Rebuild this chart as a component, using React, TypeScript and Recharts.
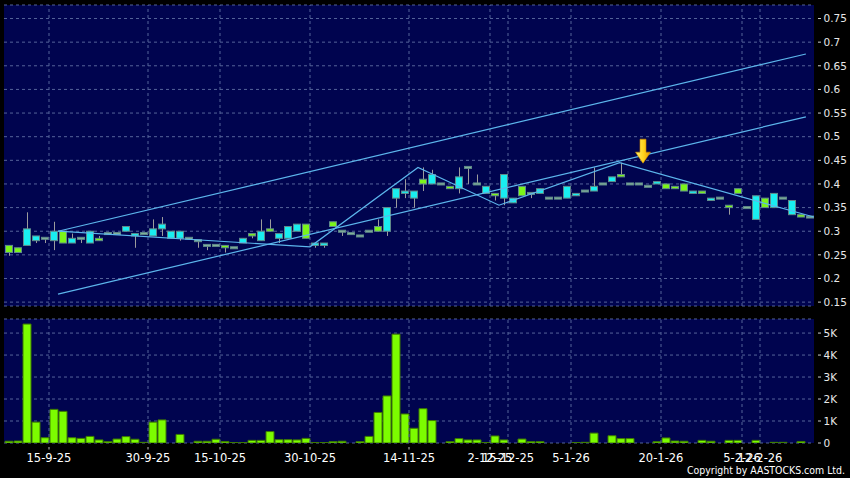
import React from "react";
import {
  ComposedChart,
  Bar,
  Line,
  XAxis,
  YAxis,
  CartesianGrid,
  ReferenceLine,
  ReferenceDot,
} from "recharts";

// daily bars (one slot per trading bar)
const opens = [
  0.27, 0.265, 0.27, 0.28, 0.285, 0.28, 0.3, 0.275, 0.285, 0.275,
  0.285, 0.295, 0.295, 0.3, 0.29, 0.295, 0.29, 0.305, 0.285, 0.285,
  0.285, 0.28, 0.27, 0.27, 0.27, 0.265, 0.275, 0.295, 0.28, 0.305,
  0.285, 0.285, 0.3, 0.315, 0.27, 0.27, 0.32, 0.3, 0.295, 0.29,
  0.3, 0.31, 0.3, 0.37, 0.38, 0.37, 0.41, 0.4, 0.4, 0.395,
  0.39, 0.435, 0.4, 0.38, 0.38, 0.37, 0.36, 0.395, 0.38, 0.38,
  0.37, 0.37, 0.37, 0.375, 0.385, 0.385, 0.4, 0.405, 0.42, 0.4,
  0.4, 0.395, 0.4, 0.4, 0.395, 0.4, 0.38, 0.385, 0.365, 0.37,
  0.355, 0.39, 0.35, 0.325, 0.37, 0.35, 0.37, 0.335, 0.335, 0.33,
];
const highs = [
  0.27, 0.265, 0.34, 0.29, 0.285, 0.32, 0.3, 0.295, 0.285, 0.3,
  0.29, 0.295, 0.295, 0.31, 0.295, 0.295, 0.325, 0.33, 0.3, 0.3,
  0.285, 0.28, 0.27, 0.27, 0.27, 0.265, 0.285, 0.295, 0.325, 0.325,
  0.295, 0.31, 0.315, 0.315, 0.275, 0.275, 0.32, 0.3, 0.295, 0.29,
  0.3, 0.325, 0.35, 0.39, 0.41, 0.385, 0.435, 0.43, 0.4, 0.395,
  0.435, 0.435, 0.42, 0.395, 0.38, 0.42, 0.37, 0.395, 0.38, 0.39,
  0.37, 0.37, 0.395, 0.38, 0.385, 0.435, 0.4, 0.415, 0.445, 0.4,
  0.4, 0.395, 0.405, 0.4, 0.395, 0.4, 0.385, 0.385, 0.37, 0.37,
  0.355, 0.39, 0.35, 0.375, 0.37, 0.38, 0.37, 0.365, 0.335, 0.33,
];
const lows = [
  0.248, 0.255, 0.27, 0.275, 0.275, 0.26, 0.275, 0.275, 0.275, 0.275,
  0.28, 0.295, 0.295, 0.3, 0.265, 0.295, 0.29, 0.29, 0.285, 0.28,
  0.285, 0.265, 0.26, 0.27, 0.255, 0.265, 0.275, 0.285, 0.28, 0.3,
  0.275, 0.285, 0.3, 0.285, 0.265, 0.265, 0.31, 0.29, 0.295, 0.29,
  0.3, 0.3, 0.29, 0.35, 0.37, 0.35, 0.385, 0.4, 0.4, 0.39,
  0.38, 0.4, 0.4, 0.38, 0.365, 0.355, 0.36, 0.375, 0.37, 0.38,
  0.37, 0.37, 0.37, 0.375, 0.385, 0.385, 0.4, 0.405, 0.415, 0.4,
  0.4, 0.395, 0.4, 0.39, 0.39, 0.385, 0.38, 0.38, 0.365, 0.37,
  0.335, 0.38, 0.35, 0.325, 0.35, 0.35, 0.37, 0.335, 0.33, 0.33,
];
const closes = [
  0.255, 0.255, 0.305, 0.29, 0.285, 0.3, 0.275, 0.285, 0.285, 0.3,
  0.28, 0.295, 0.295, 0.31, 0.295, 0.295, 0.305, 0.315, 0.3, 0.3,
  0.285, 0.28, 0.27, 0.27, 0.265, 0.265, 0.285, 0.29, 0.3, 0.3,
  0.295, 0.31, 0.315, 0.285, 0.275, 0.275, 0.31, 0.3, 0.295, 0.29,
  0.3, 0.3, 0.35, 0.39, 0.385, 0.385, 0.4, 0.42, 0.4, 0.39,
  0.415, 0.435, 0.4, 0.395, 0.375, 0.42, 0.37, 0.375, 0.38, 0.39,
  0.37, 0.37, 0.395, 0.38, 0.385, 0.395, 0.4, 0.415, 0.415, 0.4,
  0.4, 0.395, 0.405, 0.39, 0.39, 0.385, 0.385, 0.38, 0.37, 0.37,
  0.35, 0.38, 0.35, 0.375, 0.35, 0.38, 0.37, 0.365, 0.33, 0.33,
];
const volumes = [
  80, 90, 5410, 950, 240, 1530, 1440, 240, 210, 300,
  140, 60, 180, 290, 170, 30, 950, 1050, 0, 390,
  0, 80, 80, 170, 70, 20, 20, 120, 120, 520,
  150, 150, 140, 210, 20, 20, 60, 80, 0, 60,
  300, 1390, 2140, 4950, 1320, 670, 1560, 1020, 0, 60,
  200, 140, 140, 20, 320, 140, 0, 180, 60, 60,
  0, 0, 0, 20, 30, 450, 0, 330, 200, 200,
  0, 0, 60, 230, 90, 80, 0, 120, 80, 0,
  120, 120, 0, 120, 0, 30, 30, 0, 70, 0,
];

// date labels and the bar slot each one sits on
const tickSlots = [5, 16, 24, 34, 45, 54, 56, 63, 73, 82, 84];
const tickLabels = [
  "15-9-25", "30-9-25", "15-10-25", "30-10-25", "14-11-25", "2-12-25",
  "15-12-25", "5-1-26", "20-1-26", "5-2-26", "12-2-26",
];

const priceTicks = [0.15, 0.2, 0.25, 0.3, 0.35, 0.4, 0.45, 0.5, 0.55, 0.6, 0.65, 0.7, 0.75];
const volTicks = [0, 1000, 2000, 3000, 4000, 5000];

// drawn trend lines: [slot, price]
const upperChannel = [[6, 0.3], [89.1, 0.675]];
const lowerChannel = [[6, 0.167], [89.1, 0.542]];
const zigzag = [[6, 0.3], [34, 0.267], [46, 0.435], [55, 0.355], [68.4, 0.445], [90, 0.33]];
const arrowMark = [71, 0.444];

const NAVY = "#00044f";
const GRID = "#55649a";
const TREND = "#5cb6ec";
const FONT = "DejaVu Sans, sans-serif";

const rows = opens.map((o, i) => ({
  i,
  open: o,
  high: highs[i],
  low: lows[i],
  close: closes[i],
  vol: volumes[i],
}));
const pts = (a: number[][]) => a.map(([x, v]) => ({ x, v }));

const Candle = (props: any) => {
  const { x, y, width, height, payload } = props;
  if (!payload) return null;
  const { open, close, high, low } = payload;
  const k = high > low ? height / (high - low) : 0;
  const py = (v: number) => y + (high - v) * k;
  const cx = Math.round(x + width / 2) + 0.5;
  const top = py(Math.max(open, close));
  const bot = py(Math.min(open, close));
  const flat = open === close;
  const fill = flat ? "#86b49a" : close > open ? "#19eef0" : "#7cf51a";
  return (
    <g>
      {high > low && (
        <line x1={cx} x2={cx} y1={y} y2={y + height} stroke="#9c9c9c" />
      )}
      <rect
        x={x + 0.5}
        y={flat ? top - 1 : top}
        width={width - 1}
        height={flat ? 2 : Math.max(bot - top, 1)}
        fill={fill}
        stroke="#5f8a8a"
        strokeWidth={1}
      />
    </g>
  );
};

const PriceTick = (props: any) => {
  const { x, y, payload } = props;
  return (
    <g>
      <line x1={x + 4} x2={x + 7} y1={y} y2={y} stroke="#cfcfcf" />
      <text x={x + 9.5} y={y} dy="0.36em" fill="#e8e8e8" fontSize={10.5} fontFamily={FONT}>
        {String(parseFloat(Number(payload.value).toFixed(2)))}
      </text>
    </g>
  );
};

const VolTick = (props: any) => {
  const { x, y, payload } = props;
  const v = payload.value;
  return (
    <g>
      <line x1={x + 4} x2={x + 7} y1={y} y2={y} stroke="#cfcfcf" />
      <text x={x + 9.5} y={y} dy="0.36em" fill="#e8e8e8" fontSize={10.5} fontFamily={FONT}>
        {v === 0 ? "0" : v / 1000 + "K"}
      </text>
    </g>
  );
};

const DateTick = (props: any) => {
  const { x, y, payload } = props;
  const idx = tickSlots.indexOf(payload.value);
  return (
    <g>
      <line x1={x} x2={x} y1={y + 4} y2={y + 6.5} stroke="#bdbdbd" />
      <text x={x} y={y + 19} textAnchor="middle" fill="#ffffff" fontSize={11.5} fontFamily={FONT}>
        {tickLabels[idx]}
      </text>
    </g>
  );
};

const Arrow = (props: any) => {
  const { cx, cy } = props;
  const p = [
    [0, 0], [-7.5, -11], [-3, -11], [-3, -24], [3, -24], [3, -11], [7.5, -11],
  ]
    .map(([dx, dy]) => `${cx + dx},${cy + dy}`)
    .join(" ");
  return (
    <g>
      <defs>
        <linearGradient id="arrowGold" x1="0" y1="0" x2="1" y2="0">
          <stop offset="0%" stopColor="#fff06a" />
          <stop offset="55%" stopColor="#ffd21a" />
          <stop offset="100%" stopColor="#e79400" />
        </linearGradient>
      </defs>
      <polygon points={p} fill="url(#arrowGold)" stroke="#d08a00" strokeWidth={0.6} />
    </g>
  );
};

export default function App() {
  return (
    <div
      style={{
        position: "absolute",
        left: 0,
        top: 0,
        width: 850,
        height: 478,
        background: "#000",
        overflow: "hidden",
      }}
    >
      <ComposedChart
        width={850}
        height={312}
        data={rows}
        margin={{ top: 5, right: 0, left: 4, bottom: 6 }}
      >
        <CartesianGrid
          xAxisId="n"
          vertical={false}
          fill={NAVY}
          fillOpacity={1}
          stroke={GRID}
          strokeDasharray="3 3"
        />
        <XAxis xAxisId="c" dataKey="i" type="category" height={0} hide />
        <XAxis xAxisId="n" dataKey="x" type="number" domain={[0, 90]} height={0} allowDataOverflow hide />
        <YAxis
          orientation="right"
          width={36}
          domain={[0.1418, 0.7786]}
          allowDataOverflow
          ticks={priceTicks}
          interval={0}
          axisLine={false}
          tickLine={false}
          tickSize={0}
          tickMargin={0}
          tick={<PriceTick />}
        />
        {tickSlots.map((s) => (
          <ReferenceLine key={s} xAxisId="n" x={s} stroke={GRID} strokeDasharray="3 3" />
        ))}
        <Bar
          xAxisId="c"
          dataKey={(d: any) => [d.low, d.high]}
          barSize={8}
          shape={<Candle />}
          isAnimationActive={false}
        />
        <Line xAxisId="n" data={pts(upperChannel)} dataKey="v" stroke={TREND} strokeWidth={1.2} dot={false} isAnimationActive={false} />
        <Line xAxisId="n" data={pts(lowerChannel)} dataKey="v" stroke={TREND} strokeWidth={1.2} dot={false} isAnimationActive={false} />
        <Line xAxisId="n" data={pts(zigzag)} dataKey="v" stroke={TREND} strokeWidth={1.2} dot={false} isAnimationActive={false} />
        <ReferenceDot xAxisId="n" x={arrowMark[0]} y={arrowMark[1]} shape={<Arrow />} />
      </ComposedChart>

      <div style={{ position: "absolute", left: 0, top: 312 }}>
        <ComposedChart
          width={850}
          height={166}
          data={rows}
          margin={{ top: 7, right: 0, left: 4, bottom: 0 }}
        >
          <CartesianGrid
            xAxisId="n"
            vertical={false}
            fill={NAVY}
            fillOpacity={1}
            stroke={GRID}
            strokeDasharray="3 3"
          />
          <XAxis xAxisId="c" dataKey="i" type="category" height={0} hide />
          <XAxis
            xAxisId="n"
            dataKey="x"
            type="number"
            domain={[0, 90]}
            allowDataOverflow
            ticks={tickSlots}
            interval={0}
            height={35}
            axisLine={false}
            tickLine={false}
            tickSize={0}
            tickMargin={0}
            tick={<DateTick />}
          />
          <YAxis
            orientation="right"
            width={36}
            domain={[0, 5640]}
            allowDataOverflow
            ticks={volTicks}
            interval={0}
            axisLine={false}
            tickLine={false}
            tickSize={0}
            tickMargin={0}
            tick={<VolTick />}
          />
          {tickSlots.map((s) => (
            <ReferenceLine key={s} xAxisId="n" x={s} stroke={GRID} strokeDasharray="3 3" />
          ))}
          <Bar
            xAxisId="c"
            dataKey="vol"
            barSize={8}
            fill="#7cfc00"
            stroke="#3d7a00"
            strokeWidth={1}
            isAnimationActive={false}
          />
        </ComposedChart>
      </div>

      <svg
        width={850}
        height={478}
        style={{ position: "absolute", left: 0, top: 0, pointerEvents: "none" }}
      >
        <text
          x={687}
          y={474}
          textLength={158}
          lengthAdjust="spacingAndGlyphs"
          fill="#ffffff"
          fontSize={10.5}
          fontFamily={FONT}
        >
          Copyright by AASTOCKS.com Ltd.
        </text>
      </svg>
    </div>
  );
}
